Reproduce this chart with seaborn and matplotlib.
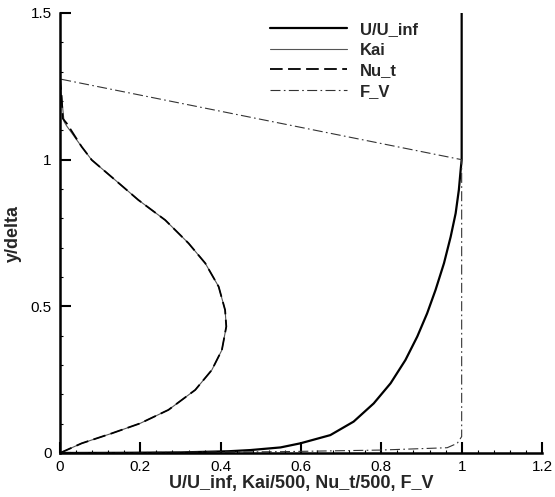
import matplotlib
matplotlib.use("Agg")
import matplotlib.pyplot as plt
from matplotlib.ticker import MultipleLocator
import seaborn as sns
import pandas as pd

# ---- data ----
u_x = [0.0, 0.15, 0.30, 0.42, 0.474, 0.549, 0.5985, 0.673, 0.731, 0.781, 0.823, 0.860, 0.8895,
       0.914, 0.935, 0.956, 0.9726, 0.985, 0.993, 0.9975, 1.0, 1.0]
u_y = [0.0, 0.0006, 0.002, 0.006, 0.010, 0.019, 0.033, 0.061, 0.107, 0.169, 0.2376, 0.317, 0.397,
       0.476, 0.556, 0.647, 0.737, 0.817, 0.897, 0.965, 1.0, 1.5]

kai_x = [0.0, 0.054, 0.129, 0.1995, 0.270, 0.3367, 0.378, 0.403, 0.414, 0.411, 0.395, 0.3616, 0.320,
         0.262, 0.195, 0.137, 0.079, 0.054, 0.0166, 0.010, 0.004, 0.0, 0.0]
kai_y = [0.0, 0.033, 0.067, 0.101, 0.147, 0.215, 0.283, 0.351, 0.431, 0.4876, 0.567, 0.647, 0.715,
         0.794, 0.8626, 0.931, 0.999, 1.044, 1.115, 1.13, 1.215, 1.277, 1.5]

nut_x = [0.0, 0.054, 0.129, 0.1995, 0.270, 0.3367, 0.378, 0.403, 0.414, 0.411, 0.395, 0.3616, 0.320,
         0.262, 0.195, 0.137, 0.079, 0.054, 0.0166, 0.007, 0.004, 0.0, 0.0]
nut_y = [0.0, 0.033, 0.067, 0.101, 0.147, 0.215, 0.283, 0.351, 0.431, 0.4876, 0.567, 0.647, 0.715,
         0.794, 0.8626, 0.931, 0.999, 1.044, 1.124, 1.14, 1.215, 1.277, 1.5]

fv_x = [0.0, 0.549, 0.798, 0.964, 0.989, 1.0, 1.0, 0.0, 0.0]
fv_y = [0.0, 0.0045, 0.010, 0.018, 0.033, 0.056, 1.0, 1.275, 1.5]

x_ticks = [0, 0.2, 0.4, 0.6, 0.8, 1.0, 1.2]
x_tick_labels = ["0", "0.2", "0.4", "0.6", "0.8", "1", "1.2"]
y_ticks = [0, 0.5, 1.0, 1.5]
y_tick_labels = ["0", "0.5", "1", "1.5"]

sns.set_theme(style="ticks")
plt.rcParams['font.family'] = ['Liberation Sans', 'DejaVu Sans']

fig = plt.figure(figsize=(5.55, 4.97), dpi=100)
ax = fig.add_axes([60/555, 1 - 453/497, (542-60)/555, (453-13)/497])

def draw(xs, ys, **kw):
    df = pd.DataFrame({"x": xs, "y": ys})
    sns.lineplot(data=df, x="x", y="y", sort=False, estimator=None, ax=ax, **kw)

draw(u_x, u_y, color="black", linewidth=1.6, label="U/U_inf")
draw(kai_x, kai_y, color="#555555", linewidth=0.8, label="Kai")
draw(nut_x, nut_y, color="black", linewidth=1.3, linestyle=(0, (7, 3)), label="Nu_t")
draw(fv_x, fv_y, color="#333333", linewidth=0.8, linestyle=(0, (9, 3, 1.5, 3)), label="F_V")

ax.set_xlim(0, 1.2)
ax.set_ylim(0, 1.5)
ax.set_xticks(x_ticks)
ax.set_xticklabels(x_tick_labels)
ax.set_yticks(y_ticks)
ax.set_yticklabels(y_tick_labels)
ax.xaxis.set_minor_locator(MultipleLocator(0.04))
ax.yaxis.set_minor_locator(MultipleLocator(0.1))
ax.tick_params(which="major", direction="in", length=8, width=1.5, labelsize=11, colors="black", pad=5)
ax.tick_params(which="minor", direction="in", length=2.5, width=0.8, colors="black")
ax.tick_params(axis="y", which="major", pad=6)
for s in ["top", "right"]:
    ax.spines[s].set_visible(False)
for s in ["left", "bottom"]:
    ax.spines[s].set_linewidth(1.8)
    ax.spines[s].set_color("black")
    ax.spines[s].set_zorder(5)

ax.set_xlabel("U/U_inf, Kai/500, Nu_t/500, F_V", fontsize=13, fontweight="bold", labelpad=1)
ax.set_ylabel("y/delta", fontsize=13, fontweight="bold", labelpad=6)

leg = ax.legend(loc="upper left", bbox_to_anchor=(270/555, 1 - 22/497), bbox_transform=fig.transFigure,
                frameon=False, handlelength=4.6, handletextpad=0.8, labelspacing=0.34,
                borderpad=0, borderaxespad=0, prop={"size": 12, "weight": "bold"})

fig.savefig("out.png", dpi=100, facecolor="white")
